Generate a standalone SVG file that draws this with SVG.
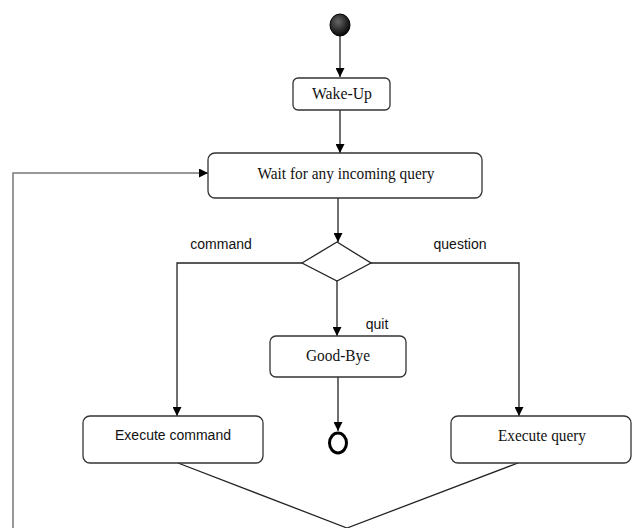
<svg xmlns="http://www.w3.org/2000/svg" width="633" height="528" viewBox="0 0 633 528">
<style>
.box{fill:#fff;stroke:#333;stroke-width:1.3}
.serif{font-family:"Liberation Serif",serif;font-size:16px;fill:#111;text-anchor:middle}
.sans{font-family:"Liberation Sans",Arial,sans-serif;font-size:14px;fill:#111;text-anchor:middle}
.ln{fill:none;stroke:#222;stroke-width:1.3}
</style>
<defs>
<marker id="ah" viewBox="0 0 10 10" refX="10" refY="5" markerWidth="9" markerHeight="9" markerUnits="userSpaceOnUse" orient="auto">
<path d="M0,0 L10,5 L0,10 Z" fill="#000"/>
</marker>
<radialGradient id="g" cx="0.4" cy="0.35" r="0.7">
<stop offset="0" stop-color="#666"/>
<stop offset="1" stop-color="#000"/>
</radialGradient>
</defs>
<g id="connectors">
<line class="ln" x1="340" y1="36" x2="340" y2="77" marker-end="url(#ah)"/>
<line class="ln" x1="340" y1="110" x2="340" y2="153" marker-end="url(#ah)"/>
<line class="ln" x1="338" y1="198" x2="338" y2="242" marker-end="url(#ah)"/>
<polyline class="ln" points="302,263 177,263 177,416" marker-end="url(#ah)"/>
<polyline class="ln" points="371,263 519,263 519,416" marker-end="url(#ah)"/>
<line class="ln" x1="337" y1="281" x2="337" y2="336" marker-end="url(#ah)"/>
<line class="ln" x1="338" y1="377" x2="338" y2="431" marker-end="url(#ah)"/>
<polyline class="ln" points="178,463 347,528 518,463"/>
<polyline fill="none" stroke="#777" stroke-width="1.5" points="13,528 13,173 208,173" marker-end="url(#ah)"/>
<text class="sans" x="221" y="249">command</text>
<text class="sans" x="460" y="249">question</text>
<text class="sans" x="377" y="329">quit</text>
</g>
<g id="start"><ellipse cx="340" cy="25" rx="10" ry="11" fill="url(#g)" stroke="#000" stroke-width="1"/></g>
<g id="wakeup"><rect class="box" x="293" y="78" width="97" height="32" rx="5"/><text class="serif" x="342" y="99" textLength="60" lengthAdjust="spacingAndGlyphs">Wake-Up</text></g>
<g id="wait"><rect class="box" x="208" y="153" width="274" height="45" rx="7"/><text class="serif" x="346" y="179" textLength="177" lengthAdjust="spacingAndGlyphs">Wait for any incoming query</text></g>
<g id="decision"><polygon points="302,263 337,242 371,263 337,281" fill="#fff" stroke="#222" stroke-width="1.3"/></g>
<g id="goodbye"><rect class="box" x="270" y="336" width="136" height="41" rx="6"/><text class="serif" x="338" y="361" textLength="64" lengthAdjust="spacingAndGlyphs">Good-Bye</text></g>
<g id="execcmd"><rect class="box" x="83" y="416" width="180" height="47" rx="7"/><text class="sans" x="173" y="440">Execute command</text></g>
<g id="execquery"><rect class="box" x="451" y="416" width="180" height="47" rx="7"/><text class="serif" x="542" y="441" textLength="88" lengthAdjust="spacingAndGlyphs">Execute query</text></g>
<g id="end"><ellipse cx="338" cy="443" rx="8.5" ry="10" fill="#fff" stroke="#000" stroke-width="3"/></g>
</svg>
